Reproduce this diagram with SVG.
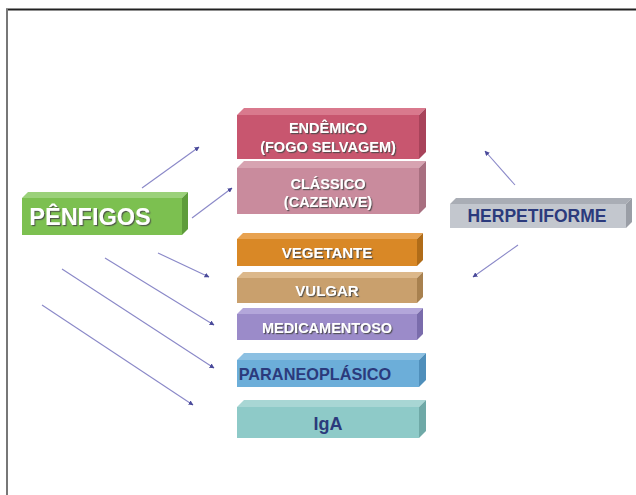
<svg xmlns="http://www.w3.org/2000/svg" width="636" height="495" viewBox="0 0 636 495">
<style>
text{font-family:"Liberation Sans",Arial,sans-serif;font-weight:bold;text-anchor:middle}
.w{fill:#ffffff;filter:url(#sh)}
.n{fill:#2b3a7c}
.conn line{stroke:#8a88c8;stroke-width:1.1;marker-end:url(#ah)}
</style>
<defs>
<filter id="sh" x="-10%" y="-30%" width="130%" height="170%">
<feDropShadow dx="1.2" dy="1.2" stdDeviation="0.4" flood-color="#4a4a4a" flood-opacity="0.85"/>
</filter>
<marker id="ah" viewBox="0 0 10 10" refX="9" refY="5" markerWidth="5" markerHeight="5" orient="auto" markerUnits="userSpaceOnUse">
<path d="M0,0 L10,5 L0,10 Z" fill="#4a4a9a"/>
</marker>
</defs>
<rect width="636" height="495" fill="#ffffff"/>
<line x1="6" y1="9.5" x2="636" y2="9.5" stroke="#222" stroke-width="2"/>
<line x1="7" y1="9" x2="7" y2="495" stroke="#777" stroke-width="2"/>

<g id="connectors" class="conn">
<line x1="142" y1="188" x2="199" y2="147"/>
<line x1="192" y1="218" x2="232" y2="188"/>
<line x1="158" y1="253" x2="209" y2="277"/>
<line x1="105" y1="258" x2="214" y2="325"/>
<line x1="62" y1="269" x2="214" y2="368"/>
<line x1="42" y1="305" x2="193" y2="405"/>
<line x1="515" y1="185" x2="485" y2="151"/>
<line x1="518" y1="245" x2="473" y2="277"/>
</g>

<g id="endemico">
<polygon points="237,115 244,108 426,108 419,115" fill="#d9798d"/>
<polygon points="419,115 426,108 426,152 419,159" fill="#a8435a"/>
<rect x="237" y="115" width="182" height="44" fill="#c8566f"/>
<text class="w" x="328" y="133" font-size="14.5">ENDÊMICO</text>
<text class="w" x="328" y="152" font-size="14.5">(FOGO SELVAGEM)</text>
</g>

<g id="classico">
<polygon points="237,168 244,161 426,161 419,168" fill="#d7a3b1"/>
<polygon points="419,168 426,161 426,207 419,214" fill="#a86f80"/>
<rect x="237" y="168" width="182" height="46" fill="#c98b9d"/>
<text class="w" x="328" y="189" font-size="14.5">CLÁSSICO</text>
<text class="w" x="328" y="207" font-size="14.5">(CAZENAVE)</text>
</g>

<g id="vegetante">
<polygon points="237,239 243,233 423,233 417,239" fill="#e8a250"/>
<polygon points="417,239 423,233 423,260 417,266" fill="#b06c18"/>
<rect x="237" y="239" width="180" height="27" fill="#d98826"/>
<text class="w" x="327" y="258" font-size="15">VEGETANTE</text>
</g>

<g id="vulgar">
<polygon points="237,278 243,272 423,272 417,278" fill="#dcb88a"/>
<polygon points="417,278 423,272 423,297 417,303" fill="#a8814f"/>
<rect x="237" y="278" width="180" height="25" fill="#c9a06d"/>
<text class="w" x="327" y="296" font-size="15">VULGAR</text>
</g>

<g id="medicamentoso">
<polygon points="237,314 243,308 423,308 417,314" fill="#b3a6da"/>
<polygon points="417,314 423,308 423,334 417,340" fill="#7a6cac"/>
<rect x="237" y="314" width="180" height="26" fill="#9b8bc9"/>
<text class="w" x="327" y="333" font-size="14.5">MEDICAMENTOSO</text>
</g>

<g id="paraneoplasico">
<polygon points="237,360 244,353 426,353 419,360" fill="#8cc0e2"/>
<polygon points="419,360 426,353 426,380 419,387" fill="#4f8fbb"/>
<rect x="237" y="360" width="182" height="27" fill="#6caed9"/>
<text class="n" x="315" y="380" font-size="16.3">PARANEOPLÁSICO</text>
</g>

<g id="iga">
<polygon points="237,407 244,400 426,400 419,407" fill="#a8d6d4"/>
<polygon points="419,407 426,400 426,431 419,438" fill="#6fa9a7"/>
<rect x="237" y="407" width="182" height="31" fill="#8ecac8"/>
<text class="n" x="328" y="430" font-size="18">IgA</text>
</g>

<g id="penfigos">
<polygon points="22,198 28,192 188,192 182,198" fill="#9bd17a"/>
<polygon points="182,198 188,192 188,229 182,235" fill="#5e9c3a"/>
<rect x="22" y="198" width="160" height="37" fill="#7cc050"/>
<text class="w" x="90" y="225" font-size="23.5">PÊNFIGOS</text>
</g>

<g id="herpetiforme">
<polygon points="450,204 456,198 632,198 626,204" fill="#a9adb5"/>
<polygon points="626,204 632,198 632,222 626,228" fill="#9a9ea6"/>
<rect x="450" y="204" width="176" height="24" fill="#c3c7ce"/>
<text class="n" x="537" y="222" font-size="17.5">HERPETIFORME</text>
</g>
</svg>
